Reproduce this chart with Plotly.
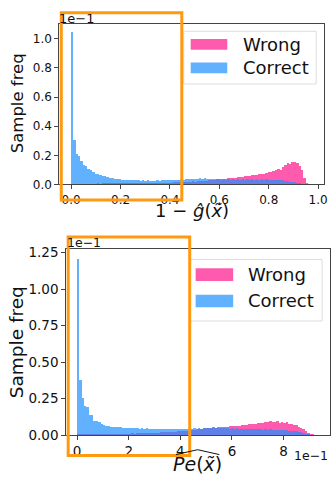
import numpy as np
import plotly.graph_objects as go

W, H = 336, 486

# ---------------- data (units of 1e-1) ----------------
top_lo, top_hi = 0.0, 0.96          # 1 - g(x) histogram range
bot_lo, bot_hi = 0.0, 9.2           # Pe(x) histogram range (x 1e-1)

top_correct = [
    1.05, 0.31, 0.215, 0.2, 0.165, 0.14, 0.13, 0.11, 0.1, 0.092,
    0.078, 0.072, 0.066, 0.06, 0.058, 0.052, 0.05, 0.046, 0.044, 0.04,
    0.038, 0.036, 0.037, 0.034, 0.035, 0.032, 0.034, 0.031, 0.033, 0.03,
    0.032, 0.029, 0.031, 0.028, 0.03, 0.029, 0.031, 0.03, 0.033, 0.031,
    0.034, 0.032, 0.036, 0.033, 0.037, 0.035, 0.039, 0.036, 0.04, 0.038,
    0.042, 0.039, 0.043, 0.04, 0.045, 0.041, 0.048, 0.04, 0.044, 0.039,
    0.042, 0.038, 0.041, 0.037, 0.04, 0.036, 0.039, 0.037, 0.04, 0.036,
    0.039, 0.036, 0.038, 0.035, 0.038, 0.036, 0.039, 0.037, 0.04, 0.036,
    0.039, 0.037, 0.038, 0.036, 0.037, 0.035, 0.036, 0.034, 0.033, 0.031,
    0.029, 0.026, 0.023, 0.02, 0.017, 0.013, 0.01, 0.006, 0.003, 0.001,
]
top_wrong = [
    0.003, 0.004, 0.004, 0.005, 0.004, 0.005, 0.005, 0.006, 0.005, 0.006,
    0.006, 0.007, 0.006, 0.007, 0.007, 0.008, 0.007, 0.008, 0.008, 0.009,
    0.008, 0.009, 0.009, 0.01, 0.009, 0.01, 0.01, 0.011, 0.01, 0.011,
    0.012, 0.011, 0.012, 0.013, 0.012, 0.013, 0.014, 0.013, 0.014, 0.015,
    0.015, 0.016, 0.016, 0.017, 0.018, 0.017, 0.019, 0.02, 0.019, 0.021,
    0.022, 0.024, 0.023, 0.026, 0.025, 0.028, 0.027, 0.03, 0.032, 0.031,
    0.036, 0.038, 0.04, 0.042, 0.044, 0.043, 0.046, 0.048, 0.047, 0.05,
    0.052, 0.055, 0.054, 0.058, 0.06, 0.063, 0.066, 0.07, 0.068, 0.074,
    0.078, 0.076, 0.083, 0.088, 0.086, 0.095, 0.1, 0.11, 0.105, 0.125,
    0.135, 0.15, 0.145, 0.158, 0.155, 0.15, 0.13, 0.1, 0.05, 0.015,
]
bot_correct = [
    1.21, 0.38, 0.255, 0.2, 0.195, 0.14, 0.142, 0.1, 0.095, 0.088,
    0.08, 0.07, 0.066, 0.062, 0.06, 0.057, 0.058, 0.054, 0.056, 0.052,
    0.05, 0.053, 0.049, 0.051, 0.047, 0.05, 0.046, 0.048, 0.045, 0.047,
    0.044, 0.046, 0.043, 0.045, 0.042, 0.044, 0.041, 0.043, 0.04, 0.042,
    0.04, 0.043, 0.041, 0.044, 0.042, 0.045, 0.043, 0.046, 0.044, 0.047,
    0.045, 0.048, 0.046, 0.05, 0.047, 0.051, 0.048, 0.052, 0.049, 0.05,
    0.048, 0.051, 0.047, 0.05, 0.046, 0.049, 0.045, 0.048, 0.044, 0.046,
    0.043, 0.045, 0.042, 0.044, 0.041, 0.043, 0.04, 0.042, 0.039, 0.041,
    0.038, 0.04, 0.037, 0.039, 0.036, 0.037, 0.034, 0.035, 0.033, 0.032,
    0.03, 0.029, 0.026, 0.024, 0.02, 0.016, 0.012, 0.008, 0.005, 0.002,
]
bot_wrong = [
    0.004, 0.005, 0.005, 0.006, 0.005, 0.006, 0.006, 0.007, 0.006, 0.007,
    0.008, 0.007, 0.008, 0.009, 0.008, 0.009, 0.01, 0.009, 0.01, 0.011,
    0.011, 0.012, 0.011, 0.013, 0.012, 0.014, 0.013, 0.015, 0.014, 0.016,
    0.017, 0.016, 0.018, 0.019, 0.018, 0.02, 0.021, 0.02, 0.022, 0.023,
    0.024, 0.025, 0.027, 0.026, 0.029, 0.03, 0.032, 0.034, 0.036, 0.038,
    0.04, 0.043, 0.045, 0.047, 0.05, 0.049, 0.052, 0.054, 0.053, 0.056,
    0.055, 0.058, 0.057, 0.06, 0.062, 0.061, 0.065, 0.067, 0.066, 0.07,
    0.072, 0.071, 0.075, 0.078, 0.076, 0.08, 0.083, 0.082, 0.086, 0.09,
    0.092, 0.098, 0.094, 0.088, 0.095, 0.085, 0.09, 0.082, 0.088, 0.078,
    0.074, 0.068, 0.07, 0.06, 0.052, 0.042, 0.03, 0.018, 0.009, 0.003,
]

top_yticks = [0.0, 0.2, 0.4, 0.6, 0.8, 1.0]
top_xticks = [0.0, 0.2, 0.4, 0.6, 0.8, 1.0]
bot_yticks = [0.0, 0.25, 0.5, 0.75, 1.0, 1.25]
bot_xticks = [0, 2, 4, 6, 8]

# ---------------- helpers ----------------
def edges_centers(lo, hi, n):
    e = np.linspace(lo, hi, n + 1)
    return (e[:-1] + e[1:]) / 2, (hi - lo) / n

def px(x):
    return x / W

def py(y):
    return 1 - y / H

PINK = "#FF5BAE"
BLUE = "rgba(30,144,255,0.7)"
ORANGE = "#FF9A10"
AXC = "#444444"
FONT = "DejaVu Sans"

fig = go.Figure()

tc, tw = edges_centers(top_lo, top_hi, len(top_correct))
bc, bw = edges_centers(bot_lo, bot_hi, len(bot_correct))

fig.add_trace(go.Bar(x=tc, y=top_wrong, width=tw, marker=dict(color=PINK, line=dict(width=0)),
                     name="Wrong", xaxis="x", yaxis="y", showlegend=False))
fig.add_trace(go.Bar(x=tc, y=top_correct, width=tw, marker=dict(color=BLUE, line=dict(width=0)),
                     name="Correct", xaxis="x", yaxis="y", showlegend=False))
fig.add_trace(go.Bar(x=bc, y=bot_wrong, width=bw, marker=dict(color=PINK, line=dict(width=0)),
                     name="Wrong", xaxis="x2", yaxis="y2", showlegend=False))
fig.add_trace(go.Bar(x=bc, y=bot_correct, width=bw, marker=dict(color=BLUE, line=dict(width=0)),
                     name="Correct", xaxis="x2", yaxis="y2", showlegend=False))

axis_common = dict(showgrid=False, zeroline=False, showline=True, mirror=True,
                   linecolor=AXC, linewidth=1, ticks="outside", ticklen=4,
                   tickcolor=AXC, tickwidth=1)

fig.update_layout(
    width=W, height=H, margin=dict(l=0, r=0, t=0, b=0),
    paper_bgcolor="white", plot_bgcolor="white",
    barmode="overlay", bargap=0,
    font=dict(family=FONT, color="#111111"),
    xaxis=dict(domain=[px(60), px(328)], range=[-0.048, 1.024], anchor="y",
               tickvals=top_xticks, tickformat=".1f", tickfont=dict(size=12), **axis_common),
    yaxis=dict(domain=[py(185), py(20)], range=[0, 1.105], anchor="x",
               tickvals=top_yticks, tickformat=".1f", tickfont=dict(size=12), **axis_common),
    xaxis2=dict(domain=[px(67), px(334)], range=[-0.42, 9.8], anchor="y2",
                tickvals=bot_xticks, tickformat="d", tickfont=dict(size=13.5), **axis_common),
    yaxis2=dict(domain=[py(442), py(251)], range=[0, 1.277], anchor="x2",
                tickvals=bot_yticks, tickformat=".2f", tickfont=dict(size=13.5), **axis_common),
)

ann = []
def text(x, y, s, size, xanchor="center", yanchor="middle", angle=0):
    ann.append(dict(x=px(x), y=py(y), xref="paper", yref="paper", text=s, showarrow=False,
                    xanchor=xanchor, yanchor=yanchor, textangle=angle,
                    font=dict(family=FONT, size=size, color="#111111")))

# axis titles
text(18, 102, "Sample freq", 16.5, angle=-90)
text(17, 347, "Sample freq", 18.5, angle=-90)
text(194, 212, "1 − <i>g\u0302</i>(<i>x\u0303</i>)", 18)
text(200, 472, "<i>Pe</i>(<i>x\u0303</i>)", 19)
# offset texts
text(58, 15, "1e−1", 13, xanchor="left")
text(66, 245, "1e−1", 12.5, xanchor="left")
text(334, 463, "1e−1", 12.5, xanchor="right")

shapes = []
def rect(x0, y0, x1, y1, **kw):
    shapes.append(dict(type="rect", xref="paper", yref="paper",
                       x0=px(x0), x1=px(x1), y0=py(y1), y1=py(y0), **kw))

# legends (drawn manually to match wide swatches)
def legend(x0, y0, x1, y1, rows):
    rect(x0, y0, x1, y1, line=dict(color="#DDDDDD", width=1), fillcolor="rgba(255,255,255,0.85)")
    for (sy0, sy1, sx0, sx1, color, label, tx) in rows:
        rect(sx0, sy0, sx1, sy1, line=dict(width=0), fillcolor=color)
        text(tx, (sy0 + sy1) / 2, label, 18, xanchor="left")

legend(186, 28, 320, 82, [
    (36, 47, 193, 230, PINK, "Wrong", 244),
    (60, 71, 193, 230, BLUE, "Correct", 244),
])
legend(192, 262, 326, 325, [
    (271, 284, 198, 236, PINK, "Wrong", 249),
    (298, 311, 198, 236, BLUE, "Correct", 249),
])

# orange highlight boxes
rect(62, 9, 184, 201, line=dict(color=ORANGE, width=3), fillcolor="rgba(0,0,0,0)")
rect(69, 239, 192, 463, line=dict(color=ORANGE, width=3), fillcolor="rgba(0,0,0,0)")

# wide hat over Pe(x)
shapes.append(dict(type="path", xref="paper", yref="paper",
                   path=f"M {px(178)} {py(462)} L {px(200)} {py(457)} L {px(222)} {py(462)}",
                   line=dict(color="#111111", width=1)))

fig.update_layout(annotations=ann, shapes=shapes)
fig.write_html("out.html")
